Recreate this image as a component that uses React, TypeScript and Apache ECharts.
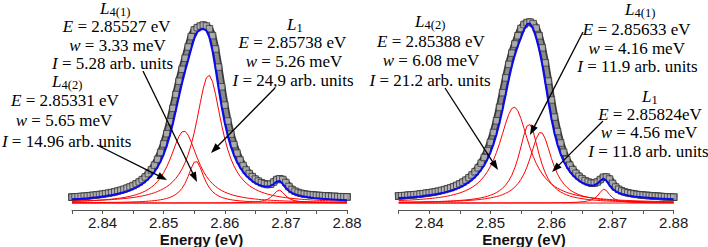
import React, { useEffect, useRef } from "react";
import * as echarts from "echarts";

// ---------- data (energy grid in eV, intensities in arb. units) ----------
const ENERGY = [
  2.835, 2.8355, 2.836, 2.8365, 2.837, 2.8375, 2.838, 2.8385, 2.839, 2.8395,
  2.84, 2.8405, 2.841, 2.8415, 2.842, 2.8425, 2.843, 2.8435, 2.844, 2.8445,
  2.845, 2.8455, 2.846, 2.8465, 2.847, 2.8475, 2.848, 2.8485, 2.849, 2.8495,
  2.85, 2.8505, 2.851, 2.8515, 2.852, 2.8525, 2.853, 2.8535, 2.854, 2.8545,
  2.855, 2.8555, 2.856, 2.8565, 2.857, 2.8575, 2.858, 2.8585, 2.859, 2.8595,
  2.86, 2.8605, 2.861, 2.8615, 2.862, 2.8625, 2.863, 2.8635, 2.864, 2.8645,
  2.865, 2.8655, 2.866, 2.8665, 2.867, 2.8675, 2.868, 2.8685, 2.869, 2.8695,
  2.87, 2.8705, 2.871, 2.8715, 2.872, 2.8725, 2.873, 2.8735, 2.874, 2.8745,
  2.875, 2.8755, 2.876, 2.8765, 2.877, 2.8775, 2.878, 2.8785, 2.879, 2.8795,
  2.88,
];

const TICK_LABELS = ["2.84", "2.85", "2.86", "2.87", "2.88"];
const AXIS_TITLE = "Energy (eV)";

// Left panel
const LEFT_DATA = [
  5.9, 6.1, 6.3, 6.6, 6.8, 7.1, 7.4, 7.7, 8.1, 8.5,
  8.9, 9.4, 9.9, 10.5, 11.2, 12.0, 12.8, 13.8, 14.9, 16.1,
  17.5, 19.2, 21.1, 23.4, 26.1, 29.3, 33.2, 37.9, 43.6, 50.6,
  59.1, 69.3, 81.3, 94.7, 108.5, 121.8, 133.7, 144.8, 156.0, 166.4,
  173.0, 175.4, 177.0, 178.0, 177.0, 174.3, 167.3, 154.0, 135.9, 116.2,
  97.9, 82.0, 68.9, 58.4, 49.9, 43.0, 37.5, 33.0, 29.4, 26.4,
  23.9, 21.9, 20.3, 19.2, 18.5, 18.8, 21.0, 23.5, 24.2, 23.5,
  20.5, 16.5, 13.5, 11.8, 10.5, 9.7, 9.0, 8.6, 8.3, 8.0,
  7.7, 7.5, 7.3, 7.1, 6.9, 6.7, 6.6, 6.4, 6.3, 6.2,
  6.1,
];
const LEFT_FIT = [
  3.7, 3.9, 4.1, 4.3, 4.6, 4.8, 5.1, 5.4, 5.7, 6.1,
  6.5, 6.9, 7.4, 7.9, 8.5, 9.2, 10.0, 10.8, 11.8, 12.9,
  14.1, 15.5, 17.2, 19.1, 21.4, 24.1, 27.3, 31.2, 35.9, 41.6,
  48.6, 57.1, 67.3, 79.3, 92.7, 106.5, 119.8, 131.7, 142.8, 154.0,
  164.4, 171.0, 173.4, 174.0, 172.3, 165.3, 152.0, 133.9, 114.2, 95.9,
  80.0, 66.9, 56.4, 47.9, 41.0, 35.5, 31.0, 27.4, 24.4, 21.9,
  19.9, 18.3, 17.2, 16.5, 16.4, 17.1, 19.0, 21.5, 22.0, 18.9,
  14.9, 12.0, 10.1, 8.7, 7.7, 7.0, 6.4, 5.9, 5.5, 5.1,
  4.8, 4.5, 4.2, 4.0, 3.8, 3.6, 3.4, 3.3, 3.1, 3.0,
  2.8,
];
const LEFT_L1 = [
  1.74, 1.82, 1.91, 2.0, 2.1, 2.2, 2.32, 2.44, 2.57, 2.71,
  2.87, 3.03, 3.22, 3.42, 3.64, 3.88, 4.14, 4.44, 4.76, 5.12,
  5.53, 5.98, 6.49, 7.07, 7.73, 8.47, 9.33, 10.32, 11.48, 12.83,
  14.42, 16.34, 18.6, 21.34, 24.69, 28.81, 33.92, 40.3, 48.28, 58.21,
  70.38, 84.73, 100.4, 115.1, 125.4, 127.7, 121.3, 108.4, 92.8, 77.6,
  64.25, 53.18, 44.23, 37.06, 31.33, 26.73, 23.0, 19.95, 17.45, 15.37,
  13.63, 12.15, 10.9, 9.83, 8.9, 8.1, 7.4, 6.78, 6.24, 5.76,
  5.33, 4.95, 4.6, 4.29, 4.01, 3.76, 3.53, 3.32, 3.13, 2.95,
  2.79, 2.64, 2.5, 2.38, 2.26, 2.15, 2.05, 1.96, 1.87, 1.78,
  1.71,
];
const LEFT_L42 = [
  1.67, 1.77, 1.87, 1.98, 2.1, 2.23, 2.37, 2.53, 2.7, 2.89,
  3.1, 3.34, 3.6, 3.9, 4.23, 4.6, 5.03, 5.51, 6.07, 6.71,
  7.45, 8.33, 9.36, 10.56, 12.02, 13.75, 15.87, 18.48, 21.63, 25.54,
  30.34, 36.18, 43.14, 51.03, 59.26, 66.53, 71.14, 71.67, 67.94, 61.15,
  53.01, 44.96, 37.75, 31.64, 26.6, 22.5, 19.17, 16.46, 14.24, 12.41,
  10.89, 9.63, 8.56, 7.66, 6.88, 6.22, 5.64, 5.14, 4.7, 4.31,
  3.97, 3.67, 3.4, 3.16, 2.94, 2.74, 2.57, 2.41, 2.26, 2.13,
  2.01, 1.89, 1.79, 1.7, 1.61, 1.53, 1.45, 1.38, 1.32, 1.26,
  1.2, 1.15, 1.1, 1.05, 1.01, 0.97, 0.93, 0.89, 0.86, 0.83,
  0.8,
];
const LEFT_L41 = [
  0.28, 0.3, 0.31, 0.33, 0.35, 0.37, 0.39, 0.41, 0.44, 0.46,
  0.49, 0.53, 0.56, 0.61, 0.65, 0.7, 0.76, 0.82, 0.9, 0.98,
  1.08, 1.18, 1.31, 1.46, 1.64, 1.84, 2.09, 2.4, 2.77, 3.22,
  3.8, 4.56, 5.54, 6.86, 8.65, 11.14, 14.69, 19.71, 26.55, 34.59,
  40.91, 41.2, 35.22, 27.16, 20.19, 15.03, 11.38, 8.82, 6.98, 5.63,
  4.63, 3.87, 3.27, 2.8, 2.42, 2.12, 1.86, 1.65, 1.47, 1.32,
  1.2, 1.08, 0.99, 0.9, 0.83, 0.76, 0.71, 0.66, 0.61, 0.57,
  0.53, 0.5, 0.47, 0.44, 0.41, 0.39, 0.37, 0.35, 0.33, 0.31,
  0.3, 0.28, 0.27, 0.26, 0.25, 0.23, 0.22, 0.22, 0.21, 0.2,
  0.19,
];
const LEFT_SMALL = [
  0.02, 0.02, 0.02, 0.02, 0.02, 0.02, 0.02, 0.02, 0.02, 0.02,
  0.02, 0.02, 0.02, 0.02, 0.03, 0.03, 0.03, 0.03, 0.03, 0.03,
  0.03, 0.04, 0.04, 0.04, 0.04, 0.04, 0.04, 0.04, 0.05, 0.05,
  0.05, 0.06, 0.06, 0.06, 0.06, 0.07, 0.07, 0.08, 0.08, 0.09,
  0.1, 0.1, 0.11, 0.12, 0.13, 0.14, 0.16, 0.17, 0.19, 0.21,
  0.23, 0.26, 0.29, 0.33, 0.38, 0.44, 0.52, 0.61, 0.74, 0.9,
  1.12, 1.44, 1.9, 2.6, 3.71, 5.51, 8.32, 11.7, 12.91, 10.4,
  7.06, 4.68, 3.2, 2.28, 1.69, 1.3, 1.03, 0.83, 0.68, 0.57,
  0.48, 0.42, 0.36, 0.32, 0.28, 0.25, 0.22, 0.2, 0.18, 0.16,
  0.15,
];

// Right panel
const RIGHT_DATA = [
  7.1, 7.3, 7.5, 7.8, 8.0, 8.3, 8.6, 9.0, 9.4, 9.8,
  10.2, 10.7, 11.3, 11.9, 12.6, 13.4, 14.3, 15.3, 16.4, 17.7,
  19.2, 20.9, 22.9, 25.3, 28.0, 31.3, 35.2, 39.8, 45.5, 52.3,
  60.6, 70.5, 82.2, 95.6, 110.3, 125.1, 138.6, 149.9, 159.0, 167.2,
  174.5, 178.5, 180.5, 181.0, 179.5, 175.0, 167.1, 155.2, 140.1, 121.9,
  103.0, 85.9, 71.5, 60.0, 50.8, 43.6, 37.9, 33.4, 29.7, 26.7,
  24.3, 22.4, 21.0, 19.9, 19.8, 21.0, 23.5, 25.8, 26.0, 24.0,
  19.6, 16.0, 13.7, 12.1, 11.0, 10.2, 9.6, 9.1, 8.6, 8.2,
  7.9, 7.6, 7.4, 7.1, 6.9, 6.7, 6.5, 6.3, 6.2, 6.0,
  5.9,
];
const RIGHT_FIT = [
  4.9, 5.1, 5.3, 5.5, 5.8, 6.0, 6.3, 6.6, 7.0, 7.4,
  7.8, 8.2, 8.7, 9.3, 9.9, 10.6, 11.4, 12.3, 13.3, 14.4,
  15.7, 17.2, 18.9, 20.9, 23.3, 26.0, 29.3, 33.2, 37.8, 43.5,
  50.3, 58.6, 68.5, 80.2, 93.6, 108.3, 123.1, 136.6, 147.9, 157.0,
  165.2, 173.1, 178.9, 179.5, 174.2, 165.1, 153.2, 138.1, 119.9, 101.0,
  83.9, 69.5, 58.0, 48.8, 41.6, 35.9, 31.4, 27.7, 24.7, 22.3,
  20.4, 19.0, 17.9, 17.5, 17.8, 19.3, 22.2, 24.5, 22.2, 17.6,
  14.0, 11.7, 10.1, 9.0, 8.2, 7.6, 7.1, 6.6, 6.2, 5.9,
  5.6, 5.4, 5.1, 4.9, 4.7, 4.5, 4.3, 4.2, 4.0, 3.9,
  3.8,
];
const RIGHT_L42 = [
  2.43, 2.56, 2.7, 2.85, 3.02, 3.2, 3.39, 3.61, 3.85, 4.11,
  4.39, 4.71, 5.07, 5.46, 5.9, 6.4, 6.95, 7.58, 8.3, 9.13,
  10.07, 11.17, 12.44, 13.93, 15.68, 17.77, 20.25, 23.24, 26.84, 31.22,
  36.53, 42.94, 50.58, 59.5, 69.42, 79.57, 88.57, 94.52, 95.85, 92.17,
  84.5, 74.77, 64.59, 55.08, 46.75, 39.71, 33.84, 29.01, 25.03, 21.73,
  19.0, 16.72, 14.8, 13.18, 11.8, 10.62, 9.6, 8.72, 7.94, 7.27,
  6.68, 6.15, 5.68, 5.27, 4.89, 4.56, 4.25, 3.98, 3.73, 3.5,
  3.3, 3.11, 2.94, 2.78, 2.63, 2.49, 2.37, 2.25, 2.14, 2.04,
  1.95, 1.86, 1.78, 1.7, 1.63, 1.56, 1.5, 1.44, 1.39, 1.33,
  1.28,
];
const RIGHT_L41 = [
  0.74, 0.78, 0.82, 0.86, 0.9, 0.95, 1.0, 1.06, 1.12, 1.19,
  1.26, 1.34, 1.43, 1.53, 1.63, 1.75, 1.88, 2.02, 2.19, 2.37,
  2.58, 2.81, 3.08, 3.39, 3.74, 4.15, 4.64, 5.21, 5.89, 6.71,
  7.7, 8.92, 10.44, 12.36, 14.81, 17.99, 22.17, 27.7, 35.04, 44.53,
  56.08, 68.16, 77.07, 78.48, 71.58, 60.02, 48.04, 37.83, 29.83, 23.77,
  19.2, 15.74, 13.08, 11.0, 9.37, 8.06, 7.0, 6.13, 5.41, 4.81,
  4.3, 3.87, 3.49, 3.17, 2.89, 2.65, 2.43, 2.24, 2.07, 1.92,
  1.79, 1.67, 1.56, 1.46, 1.37, 1.29, 1.21, 1.14, 1.08, 1.02,
  0.97, 0.92, 0.87, 0.83, 0.79, 0.76, 0.72, 0.69, 0.66, 0.63,
  0.61,
];
const RIGHT_L1 = [
  0.68, 0.71, 0.74, 0.77, 0.81, 0.85, 0.89, 0.94, 0.98, 1.04,
  1.09, 1.15, 1.22, 1.29, 1.37, 1.46, 1.55, 1.66, 1.78, 1.9,
  2.05, 2.2, 2.38, 2.58, 2.81, 3.06, 3.35, 3.69, 4.08, 4.52,
  5.05, 5.67, 6.41, 7.29, 8.36, 9.68, 11.3, 13.34, 15.92, 19.23,
  23.51, 29.04, 36.13, 44.87, 54.8, 64.24, 70.22, 70.09, 63.9, 54.39,
  44.49, 35.8, 28.79, 23.32, 19.09, 15.81, 13.25, 11.23, 9.62, 8.32,
  7.25, 6.37, 5.64, 5.03, 4.51, 4.06, 3.67, 3.34, 3.05, 2.8,
  2.57, 2.37, 2.2, 2.04, 1.9, 1.77, 1.65, 1.55, 1.46, 1.37,
  1.29, 1.22, 1.15, 1.09, 1.03, 0.98, 0.93, 0.89, 0.85, 0.81,
  0.77,
];
const RIGHT_SMALL = [
  0.02, 0.02, 0.02, 0.02, 0.02, 0.02, 0.02, 0.02, 0.02, 0.02,
  0.02, 0.02, 0.02, 0.02, 0.02, 0.02, 0.02, 0.02, 0.03, 0.03,
  0.03, 0.03, 0.03, 0.03, 0.04, 0.04, 0.04, 0.04, 0.04, 0.05,
  0.05, 0.05, 0.05, 0.06, 0.06, 0.06, 0.07, 0.07, 0.08, 0.08,
  0.09, 0.1, 0.11, 0.12, 0.13, 0.14, 0.15, 0.17, 0.18, 0.2,
  0.23, 0.26, 0.29, 0.33, 0.38, 0.44, 0.52, 0.62, 0.76, 0.94,
  1.2, 1.57, 2.13, 3.01, 4.49, 7.0, 10.79, 13.89, 12.36, 8.39,
  5.34, 3.52, 2.43, 1.76, 1.33, 1.03, 0.82, 0.67, 0.56, 0.47,
  0.4, 0.35, 0.3, 0.27, 0.24, 0.21, 0.19, 0.17, 0.16, 0.14,
  0.13,
];
const BASELINE = [0, 0];
const BASELINE_E = [2.835, 2.88];

// Annotation texts
const LEFT_NOTES = [
  { sub: "4(1)", E: "2.85527 eV", w: "3.33 meV", I: "5.28 arb. units" },
  { sub: "4(2)", E: "2.85331 eV", w: "5.65 meV", I: "14.96 arb. units" },
  { sub: "1", E: "2.85738 eV", w: "5.26 meV", I: "24,9 arb. units" },
];
const RIGHT_NOTES = [
  { sub: "4(2)", E: "2.85388 eV", w: "6.08 meV", I: "21.2 arb. units" },
  { sub: "4(1)", E: "2.85633 eV", w: "4.16 meV", I: "11.9 arb. units" },
  { sub: "1", E: "2.85824eV", w: "4.56 meV", I: "11.8 arb. units" },
];

// ---------- layout ----------
const SERIF = "'Liberation Serif', 'DejaVu Serif', serif";
const SANS = "'Liberation Sans', Arial, sans-serif";

// note layout: [Lx, Ly, Ex, Ey, wx, wy, Ix, Iy]
const LEFT_NOTE_POS = [
  [100, 8, 116.7, 26.8, 117.5, 45, 112.5, 63.5],
  [52, 81.5, 65, 100, 64, 120, 66.7, 141],
  [287, 24, 292.5, 42.5, 294, 61.2, 293, 80.5],
];
const RIGHT_NOTE_POS = [
  [415, 21.5, 431, 41.7, 431, 60.5, 430, 80],
  [625, 9.5, 636.7, 29.5, 636.7, 48.2, 637.5, 66.2],
  [642, 96, 650, 114.5, 649, 132.5, 648.5, 151],
];
// arrows: [x1, y1, x2, y2]
const ARROWS = [
  [143, 71, 197, 182],
  [97, 145, 167, 180],
  [275, 88, 211, 153],
  [445, 88, 498, 170],
  [583, 32, 530, 135],
  [603, 121, 552, 172],
];

function noteLine(x: number, y: number, sym: string, rest: string) {
  return {
    type: "text",
    x,
    y,
    z: 100,
    style: {
      text: `{i|${sym}} = ${rest}`,
      fill: "#000",
      fontFamily: SERIF,
      fontSize: 17,
      lineHeight: 13,
      align: "center",
      verticalAlign: "middle",
      rich: {
        i: { fontStyle: "italic", fontFamily: SERIF, fontSize: 17, lineHeight: 13, fill: "#000" },
      },
    },
  };
}

function noteBlock(n: any, p: number[]) {
  return [
    {
      type: "text",
      x: p[0],
      y: p[1],
      z: 100,
      style: {
        text: "L",
        fill: "#000",
        fontFamily: SERIF,
        fontStyle: "italic",
        fontSize: 17,
        lineHeight: 12,
        align: "left",
        verticalAlign: "middle",
      },
    },
    {
      type: "text",
      x: p[0] + 9.5,
      y: p[1] + 3.5,
      z: 100,
      style: {
        text: n.sub,
        fill: "#000",
        fontFamily: SERIF,
        fontSize: 12.5,
        lineHeight: 8,
        align: "left",
        verticalAlign: "middle",
      },
    },
    noteLine(p[2], p[3], "E", n.E),
    noteLine(p[4], p[5], "w", n.w),
    noteLine(p[6], p[7], "I", n.I),
  ];
}

function arrow(a: number[]) {
  const [x1, y1, x2, y2] = a;
  const dx = x2 - x1;
  const dy = y2 - y1;
  const len = Math.sqrt(dx * dx + dy * dy);
  const ux = dx / len;
  const uy = dy / len;
  const L = 10;
  const W = 3.6;
  const bx = x2 - ux * L;
  const by = y2 - uy * L;
  return [
    {
      type: "line",
      z: 100,
      shape: { x1, y1, x2: bx + ux * 2, y2: by + uy * 2 },
      style: { stroke: "#000", lineWidth: 1.3 },
    },
    {
      type: "polygon",
      z: 100,
      shape: {
        points: [
          [x2, y2],
          [bx - uy * W, by + ux * W],
          [bx + uy * W, by - ux * W],
        ],
      },
      style: { fill: "#000" },
    },
  ];
}

function zip(xs: number[], ys: number[]) {
  return xs.map((x, i) => [x, ys[i]]);
}

function tickFormatter(v: number) {
  const t = TICK_LABELS.find((l) => Math.abs(parseFloat(l) - v) < 1e-6);
  return t ?? "";
}

function panelSeries(idx: number, data: number[], fit: number[], comps: number[][]) {
  const pts = zip(ENERGY, data);
  const s: any[] = [
    {
      type: "line",
      xAxisIndex: idx,
      yAxisIndex: idx,
      data: pts,
      symbol: "none",
      z: 1,
      silent: true,
      lineStyle: { color: "#3a3a3a", width: 7.5, join: "round", cap: "square" },
    },
    {
      type: "line",
      xAxisIndex: idx,
      yAxisIndex: idx,
      data: pts,
      symbol: "none",
      z: 1,
      silent: true,
      lineStyle: { color: "#8a8a8a", width: 4, join: "round" },
    },
    {
      type: "scatter",
      xAxisIndex: idx,
      yAxisIndex: idx,
      data: pts,
      symbol: "rect",
      symbolSize: 6.5,
      clip: false,
      z: 2,
      silent: true,
      itemStyle: { color: "#b4b4b4", borderColor: "#2e2e2e", borderWidth: 0.9 },
    },
    {
      type: "line",
      xAxisIndex: idx,
      yAxisIndex: idx,
      data: zip(BASELINE_E, BASELINE),
      symbol: "none",
      z: 3,
      silent: true,
      lineStyle: { color: "#ff0000", width: 1 },
    },
  ];
  comps.forEach((c) =>
    s.push({
      type: "line",
      xAxisIndex: idx,
      yAxisIndex: idx,
      data: zip(ENERGY, c),
      symbol: "none",
      z: 3,
      silent: true,
      lineStyle: { color: "#ff0000", width: 1 },
    })
  );
  s.push({
    type: "line",
    xAxisIndex: idx,
    yAxisIndex: idx,
    data: zip(ENERGY, fit),
    symbol: "none",
    z: 4,
    silent: true,
    lineStyle: { color: "#0a0af0", width: 2 },
  });
  return s;
}

function xAxis(gridIndex: number) {
  return {
    type: "value",
    gridIndex,
    min: 2.835,
    max: 2.88,
    interval: 0.005,
    axisLine: { show: true, onZero: false, lineStyle: { color: "#555", width: 1 } },
    axisTick: { show: true, length: 4, inside: false, lineStyle: { color: "#555", width: 1 } },
    axisLabel: {
      formatter: tickFormatter,
      fontFamily: SANS,
      fontSize: 15,
      color: "#1a1a1a",
      margin: 5,
      showMinLabel: true,
      showMaxLabel: true,
    },
    splitLine: { show: false },
  };
}

function yAxis(gridIndex: number) {
  return { type: "value", gridIndex, min: -7, max: 190, show: false };
}

export default function App() {
  const ref = useRef<HTMLDivElement>(null);
  useEffect(() => {
    if (!ref.current) return;
    const chart = echarts.init(ref.current, undefined, { renderer: "svg" });
    const graphic: any[] = [];
    LEFT_NOTES.forEach((n, i) => graphic.push(...noteBlock(n, LEFT_NOTE_POS[i])));
    RIGHT_NOTES.forEach((n, i) => graphic.push(...noteBlock(n, RIGHT_NOTE_POS[i])));
    ARROWS.forEach((a) => graphic.push(...arrow(a)));
    [201.5, 524].forEach((x) =>
      graphic.push({
        type: "text",
        x,
        y: 239,
        z: 100,
        style: {
          text: AXIS_TITLE,
          fill: "#111",
          fontFamily: SANS,
          fontWeight: "bold",
          fontSize: 15,
          align: "center",
          verticalAlign: "middle",
        },
      })
    );
    chart.setOption({
      animation: false,
      backgroundColor: "#ffffff",
      grid: [
        { left: 72, top: 13, width: 275, height: 197 },
        { left: 398.7, top: 13, width: 275, height: 197 },
      ],
      xAxis: [xAxis(0), xAxis(1)],
      yAxis: [yAxis(0), yAxis(1)],
      series: [
        ...panelSeries(0, LEFT_DATA, LEFT_FIT, [LEFT_L1, LEFT_L42, LEFT_L41, LEFT_SMALL]),
        ...panelSeries(1, RIGHT_DATA, RIGHT_FIT, [RIGHT_L42, RIGHT_L41, RIGHT_L1, RIGHT_SMALL]),
      ],
      graphic,
    });
    return () => chart.dispose();
  }, []);
  return (
    <div
      ref={ref}
      style={{ position: "absolute", left: 0, top: 0, width: 708, height: 247, background: "#fff" }}
    />
  );
}
